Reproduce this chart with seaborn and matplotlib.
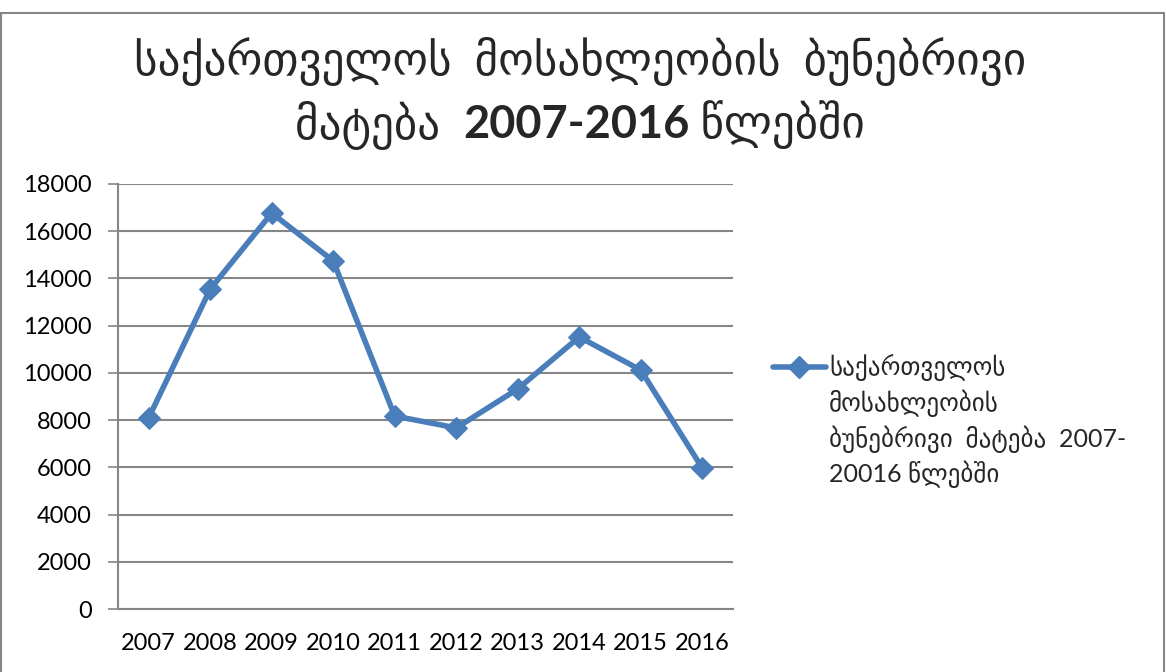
import matplotlib
matplotlib.use("Agg")
import matplotlib.pyplot as plt
import seaborn as sns
import pandas as pd
import numpy as np
from matplotlib.ticker import FixedLocator
from matplotlib.lines import Line2D

years = ["2007", "2008", "2009", "2010", "2011", "2012", "2013", "2014", "2015", "2016"]
values = [8100, 13550, 16770, 14740, 8170, 7670, 9320, 11520, 10120, 5970]
series_lines = ["საქართველოს", "მოსახლეობის", "ბუნებრივი  მატება  2007-", "20016 წლებში"]
title_line1 = "საქართველოს  მოსახლეობის  ბუნებრივი"
title_line2 = ["მატება  ", "2007-2016", " წლებში"]
yticks = list(range(0, 18001, 2000))

sns.set_theme(style="white")
plt.rcParams['font.family'] = ['Lato', 'DejaVu Sans']

fig = plt.figure(figsize=(11.66, 6.72), dpi=100)
W, H = 1166, 672
ax = fig.add_axes([118 / W, (H - 609) / H, (733 - 118) / W, (609 - 184) / H])

series_label = "\n".join(series_lines)
df = pd.DataFrame({"pos": np.arange(len(years)), "value": values, "s": series_label})
color = "#4A7EBB"
sns.lineplot(data=df, x="pos", y="value", hue="s", palette=[color], ax=ax,
             marker="D", markersize=11, linewidth=4, markeredgecolor=color,
             legend=False)

ax.set_xlim(-0.5, len(years) - 0.5)
ax.set_ylim(0, 18000)
ax.set_yticks(yticks)
ax.set_yticklabels([str(v) for v in yticks], fontsize=17)
ax.set_xticks(np.arange(len(years)))
ax.set_xticklabels(years, fontsize=17)
ax.xaxis.set_minor_locator(FixedLocator(np.arange(len(years) + 1) - 0.5))
ax.tick_params(axis="x", which="major", length=0, pad=17, colors="black")
ax.tick_params(axis="x", which="minor", length=7, width=1.2, color="#868686", direction="out")
ax.tick_params(axis="y", which="major", length=7, width=1.2, direction="out", left=True, pad=12, labelcolor="black", color="#868686")
ax.set_xlabel("")
ax.set_ylabel("")
ax.grid(axis="y", color="#868686", linewidth=1.5)
ax.set_axisbelow(True)
for side in ["top", "right"]:
    ax.spines[side].set_visible(False)
for side in ["left", "bottom"]:
    ax.spines[side].set_color("#868686")
    ax.spines[side].set_linewidth(1.5)

# legend: handle with first line, continuation lines as text
handle = Line2D([0], [0], color=color, lw=4, marker="D", markersize=11, markeredgecolor=color)
leg = fig.legend([handle], [series_lines[0]], loc="center left",
                 bbox_to_anchor=(773 / W, 1 - 368 / H), frameon=False,
                 handlelength=2.1, handletextpad=0.15, borderaxespad=0, borderpad=0,
                 prop={"size": 18})
fig.canvas.draw()
renderer = fig.canvas.get_renderer()
ext = leg.get_texts()[0].get_window_extent(renderer)
tx = ext.x0
for i, line in enumerate(series_lines[1:], start=1):
    fig.text(tx / W, 1 - (368 + 35.5 * i) / H, line, ha="left", va="center", fontsize=18)

# title
fig.text(580 / W, 1 - 62 / H, title_line1, ha="center", va="center", fontsize=32.5)
parts = []
weights = ["normal", "bold", "normal"]
for s, w in zip(title_line2, weights):
    parts.append(fig.text(0, 1 - 125 / H, s, ha="left", va="center", fontsize=32.5, fontweight=w))
widths = [p.get_window_extent(renderer).width for p in parts]
total = sum(widths)
x = 580 - total / 2
for p, wd in zip(parts, widths):
    p.set_x(x / W)
    x += wd

# outer border
fig.patches.append(plt.Rectangle((1 / W, -0.02), 1 - 3 / W, 1.0, transform=fig.transFigure,
                                 fill=False, edgecolor="#868686", linewidth=1.5))

fig.savefig("out.png", dpi=100)
